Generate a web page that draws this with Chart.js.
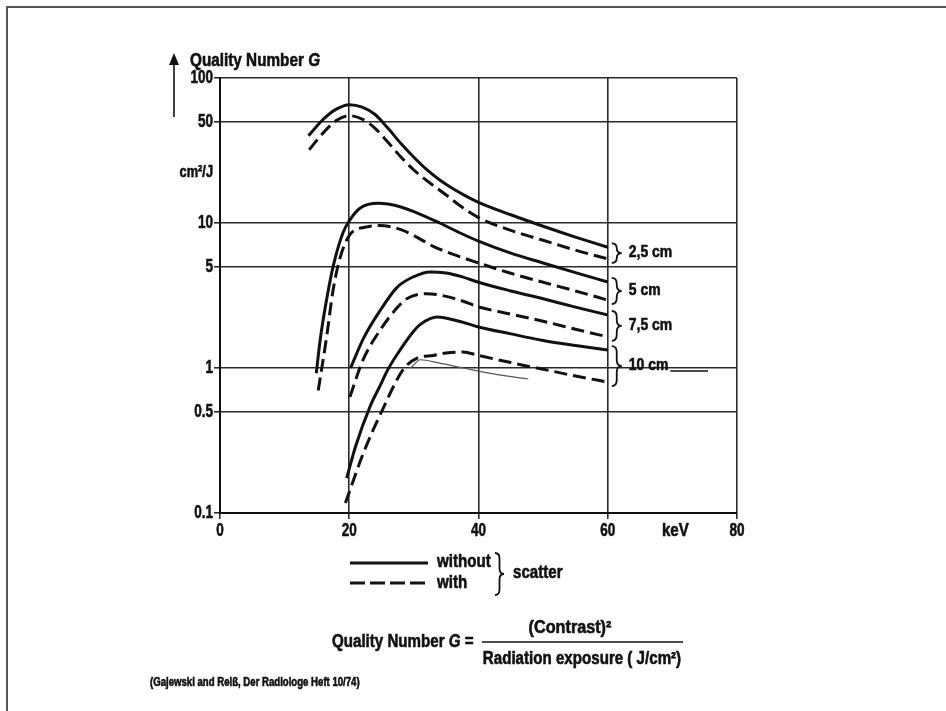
<!DOCTYPE html>
<html>
<head>
<meta charset="utf-8">
<script src="https://cdn.jsdelivr.net/npm/chart.js@4.4.1/dist/chart.umd.min.js"></script>
<style>
  html, body { margin: 0; padding: 0; background: #fff; }
  #wrap { width: 946px; height: 711px; position: relative; }
  canvas { display: block; }
</style>
</head>
<body>
<div id="wrap"><canvas id="c" width="946" height="711"></canvas></div>
<script>
// ---- Data (keV vs. Quality Number G, cm²/J) ----
const keV25Without = [13.7, 16, 18, 20, 22, 24, 26, 28, 30, 32, 34, 36, 38, 40, 45, 50, 55, 60];
const g25Without   = [40, 52, 61, 65.5, 63, 56, 45, 35.3, 28.4, 23.3, 19.8, 17.3, 15.4, 13.9, 11.4, 9.5, 8.0, 6.8];
const keV25With    = [13.8, 16, 18, 20, 22, 24, 26, 28, 30, 32, 35, 37, 40, 45, 50, 55, 60];
const g25With      = [32, 42, 51, 55, 52, 45, 36, 28.5, 23.2, 19.6, 15.6, 13.3, 10.9, 8.9, 7.6, 6.5, 5.65];

const keV5Without  = [14.9, 15.5, 16.3, 17.5, 19, 20.1, 21.7, 24.5, 26, 28, 30, 34, 37, 40, 45, 50, 55, 60];
const g5Without    = [0.92, 1.56, 2.64, 5.0, 8.5, 10.5, 12.7, 13.7, 13.5, 12.9, 12.0, 10.0, 8.6, 7.5, 6.2, 5.3, 4.55, 3.92];
const keV5With     = [15.2, 16.5, 17.5, 18.6, 20.1, 22.7, 24.8, 26, 28, 30, 33, 36, 40, 45, 50, 55, 60];
const g5With       = [0.70, 1.64, 3.45, 5.8, 8.3, 9.4, 9.6, 9.5, 9.0, 8.2, 6.9, 6.1, 5.3, 4.5, 3.9, 3.4, 2.94];

const keV75Without = [20.2, 22.2, 24.8, 27.4, 29.9, 32.5, 35, 37.5, 40, 45, 50, 55, 60];
const g75Without   = [1.0, 1.6, 2.5, 3.6, 4.25, 4.6, 4.52, 4.25, 3.9, 3.4, 3.0, 2.63, 2.32];
const keV75With    = [20.1, 22.1, 24.8, 27.4, 28.9, 32, 35, 37.5, 40, 45, 50, 55, 60];
const g75With      = [0.63, 1.13, 1.83, 2.6, 3.0, 3.25, 3.12, 2.9, 2.64, 2.35, 2.1, 1.85, 1.64];

const keV10Without = [19.6, 21, 23.2, 24.8, 26, 27.4, 29.9, 31, 33.6, 37, 40, 45, 50, 55, 60];
const g10Without   = [0.174, 0.29, 0.54, 0.76, 0.98, 1.24, 1.78, 2.0, 2.25, 2.1, 1.92, 1.72, 1.55, 1.43, 1.33];
const keV10With    = [19.4, 22.2, 25.1, 28.3, 30.5, 33, 35, 37.6, 40, 45, 48, 50, 55, 60];
const g10With      = [0.117, 0.26, 0.51, 0.97, 1.17, 1.22, 1.27, 1.29, 1.22, 1.09, 1.02, 0.98, 0.88, 0.80];

// faint stray pencil stroke in the original scan
const keVStray = [29.5, 31, 34, 37.6, 42.9, 47.7];
const gStray   = [1.0, 1.14, 1.08, 1.0, 0.9, 0.84];

const thicknessLabels = ['2,5 cm', '5 cm', '7,5 cm', '10 cm'];

const xTickValues = [0, 20, 40, 60, 70, 80];
const xTickLabels = ['0', '20', '40', '60', 'keV', '80'];
const yTickValues = [0.1, 0.5, 1, 5, 10, 22.5, 50, 100];
const yTickLabels = ['0.1', '0.5', '1', '5', '10', 'cm²/J', '50', '100'];
const xUnitValue = 70;
const yUnitValue = 22.5;

// ---- Styling ----
const FONT = '"Liberation Sans", Arial, sans-serif';
const INK = '#111';
const GRID = '#2a2a2a';
const DASH = [13, 6];

const pairs = [
  [keV25Without, g25Without, keV25With, g25With],
  [keV5Without, g5Without, keV5With, g5With],
  [keV75Without, g75Without, keV75With, g75With],
  [keV10Without, g10Without, keV10With, g10With]
];

const toPts = (xs, ys) => xs.map((x, i) => ({ x: x, y: ys[i] }));
const datasets = [];
pairs.forEach(p => {
  datasets.push({ data: toPts(p[0], p[1]), borderColor: INK, borderWidth: 3, borderDash: [],
    pointRadius: 0, cubicInterpolationMode: 'monotone', fill: false });
  datasets.push({ data: toPts(p[2], p[3]), borderColor: INK, borderWidth: 3, borderDash: DASH,
    pointRadius: 0, cubicInterpolationMode: 'monotone', fill: false });
});
datasets.push({ data: toPts(keVStray, gStray), borderColor: '#555', borderWidth: 1.2,
  pointRadius: 0, cubicInterpolationMode: 'monotone', fill: false });

// condensed heavy text (horizontal squeeze + light stroke to imitate the original face)
function txt(ctx, s, x, y, size, sx, align, italic) {
  ctx.font = (italic ? 'italic ' : '') + 'bold ' + size + 'px ' + FONT;
  ctx.textAlign = 'left';
  const w = ctx.measureText(s).width * sx;
  const x0 = align === 'right' ? x - w : (align === 'center' ? x - w / 2 : x);
  ctx.save();
  ctx.translate(x0, y);
  ctx.scale(sx, 1);
  ctx.fillText(s, 0, 0);
  ctx.lineWidth = 0.6;
  ctx.lineJoin = 'round';
  ctx.strokeText(s, 0, 0);
  ctx.restore();
  return w;
}

function brace(ctx, x, y1, y2, w) {
  const mid = (y1 + y2) / 2;
  const r = Math.min(w * 0.6, (y2 - y1) / 4);
  const xm = x + w * 0.5;
  ctx.beginPath();
  ctx.moveTo(x, y1);
  ctx.quadraticCurveTo(xm, y1, xm, y1 + r);
  ctx.lineTo(xm, mid - r);
  ctx.quadraticCurveTo(xm, mid, x + w, mid);
  ctx.quadraticCurveTo(xm, mid, xm, mid + r);
  ctx.lineTo(xm, y2 - r);
  ctx.quadraticCurveTo(xm, y2, x, y2);
  ctx.stroke();
}

const overlay = {
  id: 'overlay',
  afterDraw(chart) {
    const ctx = chart.ctx;
    const xs = chart.scales.x, ys = chart.scales.y;
    ctx.save();
    // page frame (scan border)
    ctx.strokeStyle = '#555';
    ctx.lineWidth = 2;
    ctx.beginPath();
    ctx.moveTo(7, 711); ctx.lineTo(7, 7); ctx.lineTo(946, 7);
    ctx.stroke();

    ctx.fillStyle = INK;
    ctx.strokeStyle = INK;
    ctx.textBaseline = 'middle';

    // tick labels, placed through the chart's scales
    yTickValues.forEach((v, i) => {
      const unit = v === yUnitValue;
      txt(ctx, yTickLabels[i], 213, ys.getPixelForValue(v) + (unit ? 1 : 0), unit ? 16 : 18, unit ? 0.8 : 0.75, 'right');
    });
    xTickValues.forEach((v, i) => {
      const unit = v === xUnitValue;
      txt(ctx, xTickLabels[i], xs.getPixelForValue(v) + (unit ? 3 : 0), xs.top + 18, 18, unit ? 0.84 : 0.75, 'center');
    });

    // y-axis arrow
    ctx.lineWidth = 1.6;
    ctx.beginPath(); ctx.moveTo(174, 117); ctx.lineTo(174, 62); ctx.stroke();
    ctx.beginPath(); ctx.moveTo(174, 53); ctx.lineTo(169, 65); ctx.lineTo(179, 65); ctx.closePath(); ctx.fill();

    // axis title
    ctx.textBaseline = 'alphabetic';
    const w1 = txt(ctx, 'Quality Number ', 190, 66, 18, 0.85, 'left');
    txt(ctx, 'G', 190 + w1, 66, 18, 0.85, 'left', true);

    // thickness braces and labels at the right ends
    ctx.textBaseline = 'middle';
    const x60 = xs.getPixelForValue(60);
    pairs.forEach((p, i) => {
      const ya = ys.getPixelForValue(p[1][p[1].length - 1]);
      const yb = ys.getPixelForValue(p[3][p[3].length - 1]);
      const top = Math.min(ya, yb) - 4, bot = Math.max(ya, yb) + 4;
      ctx.lineWidth = 1.8;
      brace(ctx, x60 + 4, top, bot, 10);
      const cy = (top + bot) / 2 - 1;
      const lw = txt(ctx, thicknessLabels[i], x60 + 21, cy, 17, 0.82, 'left');
      if (i === pairs.length - 1) {
        ctx.lineWidth = 1.4;
        ctx.beginPath(); ctx.moveTo(x60 + 21 + lw + 2, cy + 6); ctx.lineTo(708, cy + 6); ctx.stroke();
      }
    });

    // legend: without / with scatter
    ctx.lineWidth = 3;
    ctx.setLineDash([]);
    ctx.beginPath(); ctx.moveTo(350, 563); ctx.lineTo(428, 563); ctx.stroke();
    ctx.setLineDash([15, 5]);
    ctx.beginPath(); ctx.moveTo(350, 583); ctx.lineTo(428, 583); ctx.stroke();
    ctx.setLineDash([]);
    txt(ctx, 'without', 437, 562, 18, 0.84, 'left');
    txt(ctx, 'with', 437, 583, 18, 0.84, 'left');
    ctx.lineWidth = 1.8;
    brace(ctx, 495, 553, 595, 9);
    txt(ctx, 'scatter', 513, 573, 18, 0.84, 'left');

    // formula
    const wq = txt(ctx, 'Quality Number ', 332, 642, 18, 0.84, 'left');
    const wg = txt(ctx, 'G', 332 + wq, 642, 18, 0.84, 'left', true);
    txt(ctx, ' =', 332 + wq + wg, 642, 18, 0.84, 'left');
    ctx.lineWidth = 1.6;
    ctx.beginPath(); ctx.moveTo(482, 642); ctx.lineTo(683, 642); ctx.stroke();
    txt(ctx, '(Contrast)²', 570, 628, 18, 0.9, 'center');
    txt(ctx, 'Radiation exposure ( J/cm²)', 582, 659, 18, 0.84, 'center');

    // source
    txt(ctx, '(Gajewski and Reiß, Der Radiologe Heft 10/74)', 150, 683, 12, 0.8, 'left');
    ctx.restore();
  }
};

const gridColor = (unit) => (c) => (c.tick && c.tick.value === unit) ? 'rgba(0,0,0,0)' : GRID;

new Chart(document.getElementById('c'), {
  type: 'line',
  data: { datasets: datasets },
  options: {
    responsive: false,
    animation: false,
    events: [],
    layout: { padding: { left: 0, right: 209, top: 78, bottom: 158 } },
    plugins: { legend: { display: false }, tooltip: { enabled: false } },
    scales: {
      x: {
        type: 'linear', min: 0, max: 80,
        afterFit: (s) => { s.height = 40; },
        afterBuildTicks: (s) => { s.ticks = xTickValues.map(v => ({ value: v })); },
        grid: { color: gridColor(xUnitValue), lineWidth: 1.6, tickLength: 6, drawTicks: true },
        border: { color: INK, width: 2 },
        ticks: { display: false, autoSkip: false, callback: (v, i) => xTickLabels[i] }
      },
      y: {
        type: 'logarithmic', min: 0.1, max: 100,
        afterFit: (s) => { s.width = 220; },
        afterBuildTicks: (s) => { s.ticks = yTickValues.map(v => ({ value: v })); },
        grid: { color: gridColor(yUnitValue), lineWidth: 1.6, tickLength: 6, drawTicks: true },
        border: { color: INK, width: 2 },
        ticks: { display: false, autoSkip: false, callback: (v, i) => yTickLabels[i] }
      }
    }
  },
  plugins: [overlay]
});
</script>
</body>
</html>
